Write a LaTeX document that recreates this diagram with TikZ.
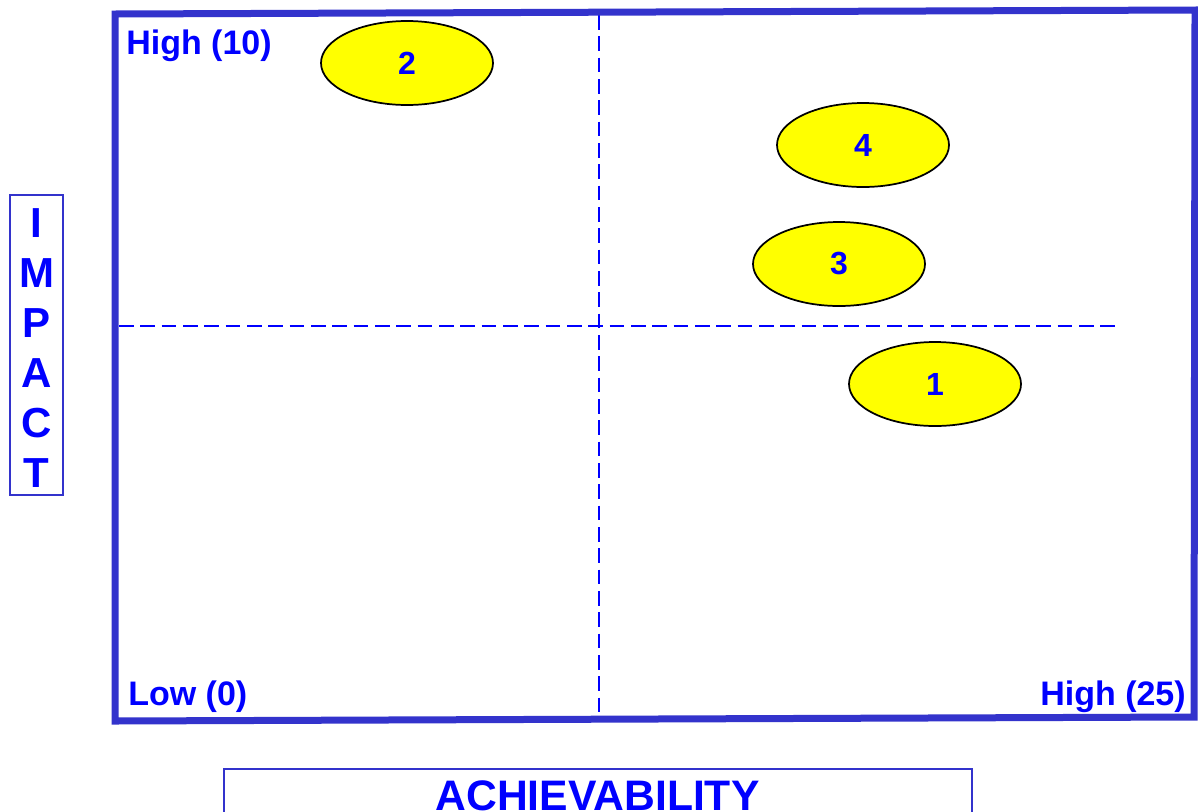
\documentclass[tikz,border=0pt]{standalone}
\usepackage{fontspec}
\setmainfont{Liberation Sans}[BoldFont={Liberation Sans Bold}]
\newfontfamily\bsans{Liberation Sans Bold}
\usetikzlibrary{shapes.geometric}
\definecolor{framec}{RGB}{51,51,204}
\definecolor{txtc}{RGB}{0,0,255}
\definecolor{bubc}{RGB}{255,255,0}
\tikzset{
  lbl/.style={font=\bsans\fontsize{25.5pt}{30pt}\selectfont, text=txtc, inner sep=0pt},
  vlet/.style={font=\bsans\fontsize{31.5pt}{36pt}\selectfont, text=txtc, inner sep=0pt, anchor=base},
  bub/.style={ellipse, draw=black, line width=1.3pt, fill=bubc, minimum width=129pt, minimum height=63pt, inner sep=0pt, font=\bsans\fontsize{24pt}{28pt}\selectfont, text=txtc},
  quad/.style={draw=txtc, line width=1.3pt, dash pattern=on 11pt off 5pt},
  axbox/.style={draw=framec, line width=1.5pt}
}
\begin{document}
\begin{tikzpicture}[x=0.75pt,y=-0.75pt]
\clip (0,0) rectangle (1198,811);
\fill[white] (0,0) rectangle (1198,811);
% quadrant dashed lines
\coordinate (vtop) at (599,15);
\coordinate (vbot) at (599,719);
\coordinate (hl) at (119,326);
\coordinate (hr) at (1118,326);
\draw[quad] (vtop) -- (vbot);
\draw[quad] (hl) -- (hr);
% main frame
\coordinate (tl) at (115,14);
\coordinate (tr) at (1195,10);
\coordinate (br) at (1194,717);
\coordinate (bl) at (115,721);
\draw[draw=framec, line width=5.25pt, line join=miter] (tl) -- (tr) -- (br) -- (bl) -- cycle;
% corner labels
\node[lbl, anchor=base west] (hi10) at (126,54) {High (10)};
\node[lbl, anchor=base west] (low0) at (128,705) {Low (0)};
\node[lbl, anchor=base east] (hi25) at (1186,705) {High (25)};
% bubbles
\node[bub] (b2) at (407,63) {2};
\node[bub] (b4) at (863,145) {4};
\node[bub] (b3) at (839,264) {3};
\node[bub] (b1) at (935,384) {1};
% IMPACT box
\node[axbox, minimum width=39.75pt, minimum height=225pt, inner sep=0pt] (impact) at (36.5,345) {};
\foreach \l/\y [count=\i] in {I/237,M/287,P/337,A/387,C/437,T/487}
  \node[vlet] (imp\i) at (36.5,\y) {\l};
% ACHIEVABILITY box
\node[axbox, anchor=north west, minimum width=561pt, minimum height=60pt, inner sep=0pt] (achbox) at (223,768) {};
\node[font=\bsans\fontsize{32pt}{36pt}\selectfont, text=txtc, inner sep=0pt, anchor=base] (ach) at (597.5,810) {ACHIEVABILITY};
\end{tikzpicture}
\end{document}
